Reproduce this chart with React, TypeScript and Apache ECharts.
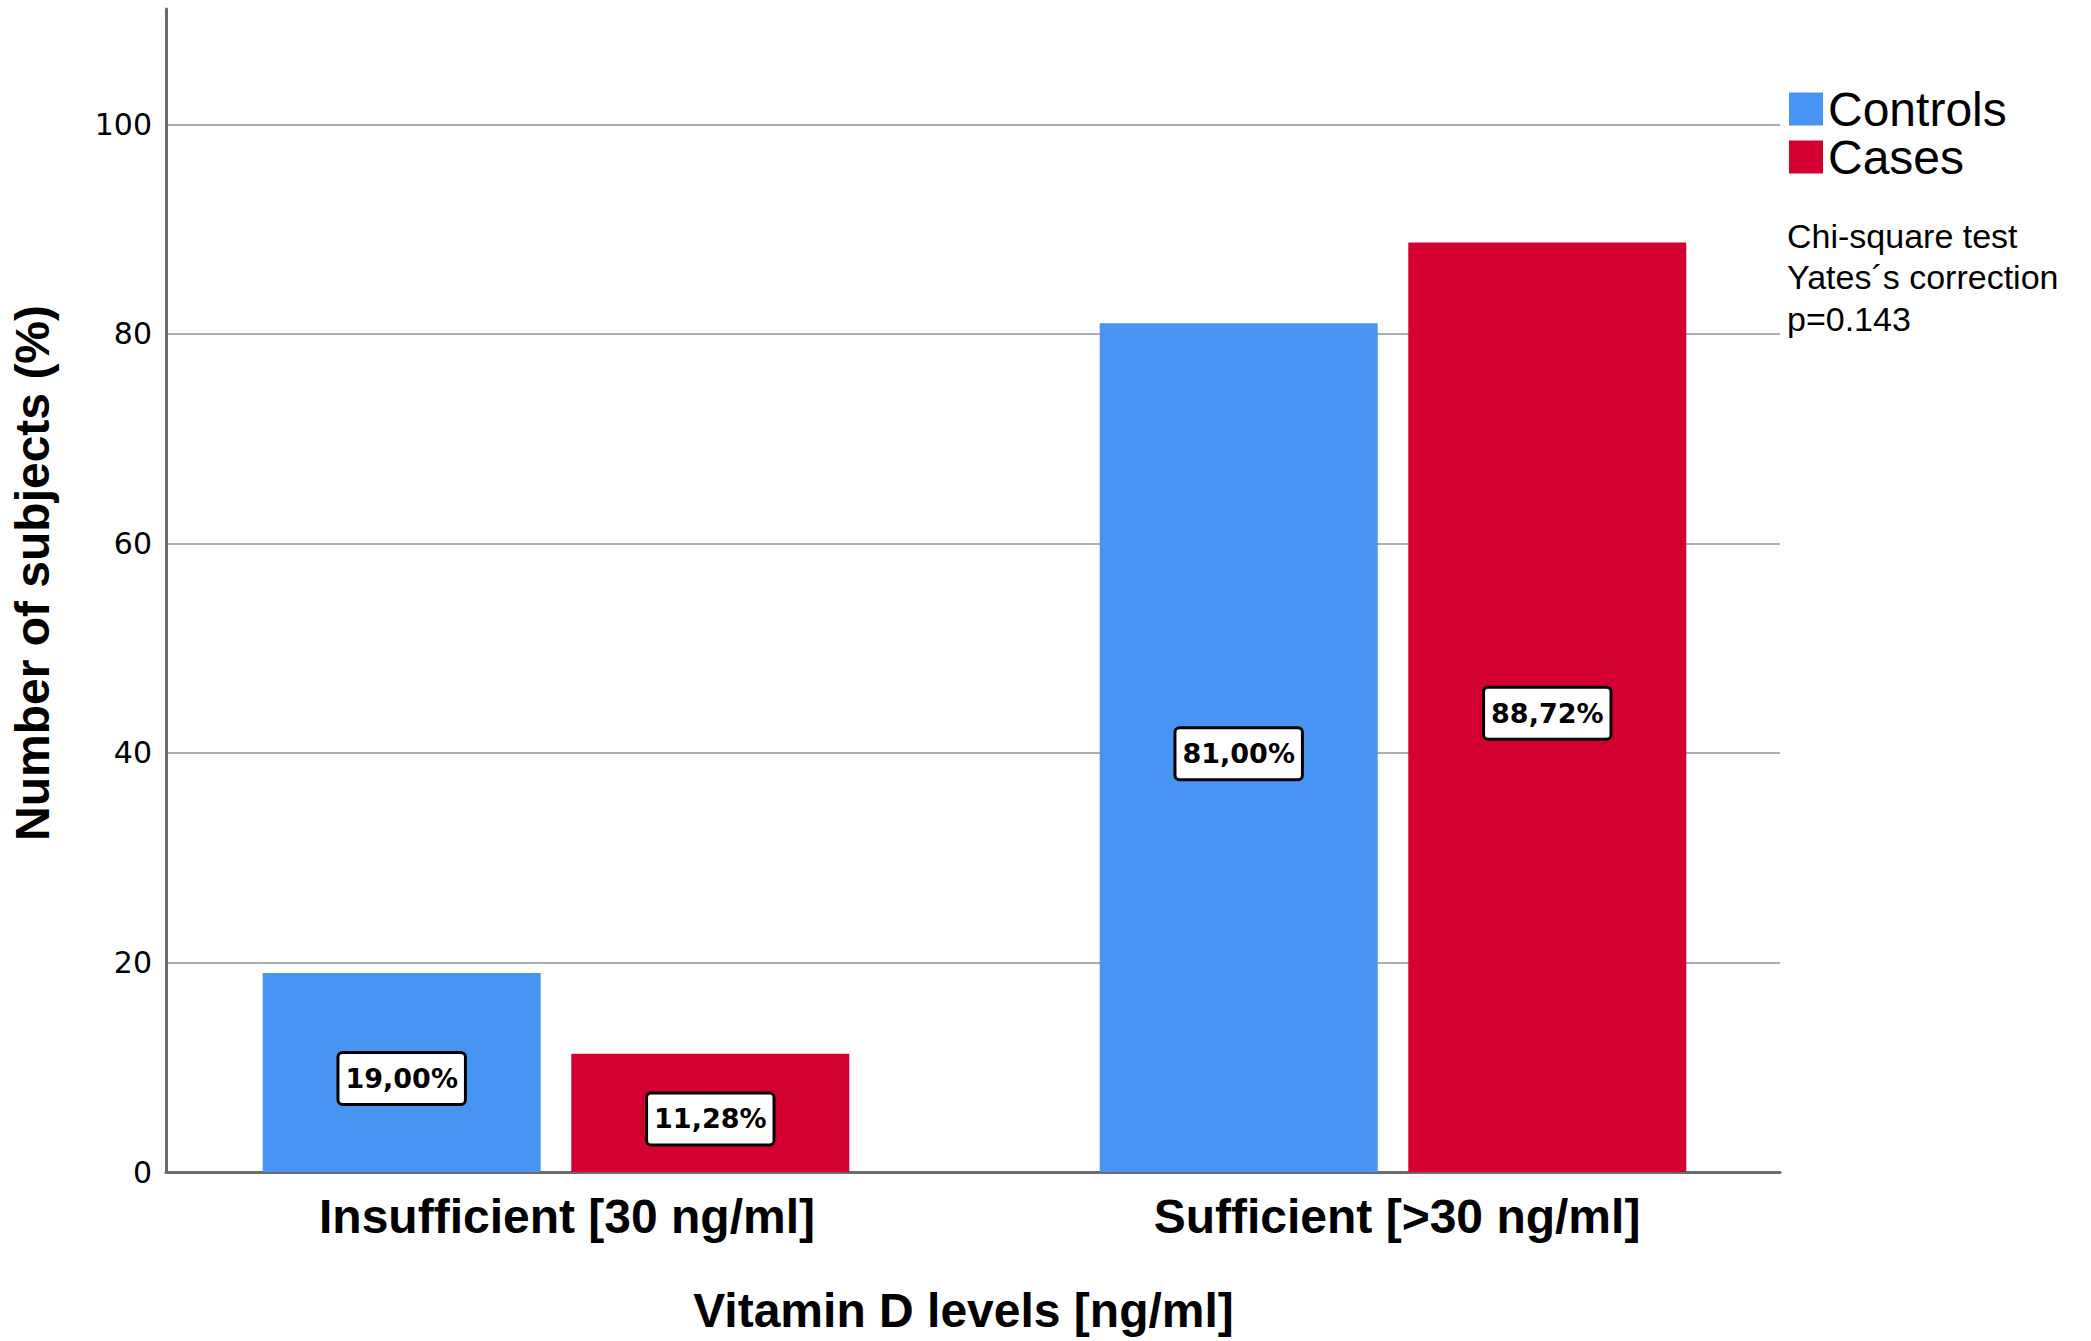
import React, { useEffect, useRef } from "react";
import * as echarts from "echarts";

const categories = ["Insufficient [30 ng/ml]", "Sufficient [>30 ng/ml]"];
const seriesNames = ["Controls", "Cases"];
const controls = [19.0, 81.0];
const cases = [11.28, 88.72];
const yTicks = { min: 0, max: 111, interval: 20, lastLabel: 100 };
const annotationLines = ["Chi-square test", "Yates\u00B4s correction", "p=0.143"];

const BLUE = "#4894F3";
const RED = "#D50032";

const fmtPct = (v: number) => v.toFixed(2).replace(".", ",") + "%";

export default function App() {
  const ref = useRef<HTMLDivElement>(null);
  useEffect(() => {
    if (!ref.current) return;
    const chart = echarts.init(ref.current, null, { renderer: "svg" });
    const barLabel = {
      show: true,
      position: "inside",
      offset: [0, 6],
      formatter: (p: any) => fmtPct(p.value),
      backgroundColor: "#ffffff",
      borderColor: "#000000",
      borderWidth: 3,
      borderRadius: 3,
      padding: [12, 6, 10, 6],
      fontFamily: "DejaVu Sans",
      fontWeight: "bold",
      fontSize: 27,
      color: "#000000",
    };
    const catPads = [22, 8];
    chart.setOption({
      animation: false,
      backgroundColor: "#ffffff",
      grid: [
        { left: 137.5, width: 1674, top: 9, bottom: 169 },
        { left: 166, right: 311, top: 9, bottom: 169 },
      ],
      legend: {
        orient: "vertical",
        left: 1784,
        top: 80,
        icon: "rect",
        itemWidth: 34,
        itemHeight: 33,
        itemGap: 0,
        data: seriesNames,
        textStyle: {
          fontFamily: "Liberation Sans",
          fontSize: 48,
          lineHeight: 43,
          color: "#000000",
        },
      },
      xAxis: [
        {
          gridIndex: 0,
          type: "category",
          data: categories.map((c, i) => ({
            value: c,
            textStyle: { padding: [0, 0, 0, catPads[i]] },
          })),
          axisLine: { show: false },
          axisTick: { show: false },
          splitLine: { show: false },
          axisLabel: {
            fontFamily: "Liberation Sans",
            fontWeight: "bold",
            fontSize: 48,
            color: "#000000",
            margin: 20,
          },
          name: "Vitamin D levels [ng/ml]",
          nameLocation: "middle",
          nameGap: 114,
          nameTextStyle: {
            fontFamily: "Liberation Sans",
            fontWeight: "bold",
            fontSize: 48,
            color: "#000000",
            padding: [0, 22, 0, 0],
          },
        },
        {
          gridIndex: 1,
          type: "value",
          min: 0,
          max: 1,
          axisLine: { show: true, lineStyle: { color: "#6b6b6b", width: 3 } },
          axisTick: { show: false },
          axisLabel: { show: false },
          splitLine: { show: false },
        },
      ],
      yAxis: [
        {
          gridIndex: 0,
          type: "value",
          min: yTicks.min,
          max: yTicks.max,
          show: false,
        },
        {
          gridIndex: 1,
          type: "value",
          min: yTicks.min,
          max: yTicks.max,
          interval: yTicks.interval,
          axisLine: { show: true, lineStyle: { color: "#6b6b6b", width: 3 } },
          axisTick: { show: false },
          axisLabel: {
            showMaxLabel: false,
            formatter: (v: number) => (v > yTicks.lastLabel ? "" : String(v)),
            fontFamily: "DejaVu Sans",
            fontSize: 30,
            color: "#000000",
            margin: 14,
          },
          splitLine: {
            show: true,
            showMinLine: false,
            showMaxLine: false,
            lineStyle: { color: "#adadad", width: 2 },
          },
        },
      ],
      graphic: [
        {
          type: "text",
          x: 32,
          y: 573,
          rotation: Math.PI / 2,
          style: {
            text: "Number of subjects (%)",
            fontFamily: "Liberation Sans",
            fontWeight: "bold",
            fontSize: 48,
            fill: "#000000",
            textAlign: "center",
            textVerticalAlign: "middle",
          },
        },
        {
          type: "text",
          x: 1787,
          y: 215,
          style: {
            text: annotationLines.join("\n"),
            fontFamily: "Liberation Sans",
            fontSize: 34,
            lineHeight: 41.5,
            fill: "#000000",
            textAlign: "left",
            textVerticalAlign: "top",
          },
        },
      ],
      series: [
        {
          name: seriesNames[0],
          type: "bar",
          xAxisIndex: 0,
          yAxisIndex: 0,
          data: controls,
          barWidth: 278,
          barGap: "11%",
          itemStyle: { color: BLUE },
          label: barLabel,
        },
        {
          name: seriesNames[1],
          type: "bar",
          xAxisIndex: 0,
          yAxisIndex: 0,
          data: cases,
          barWidth: 278,
          barGap: "11%",
          itemStyle: { color: RED },
          label: barLabel,
        },
      ],
    });
    return () => chart.dispose();
  }, []);
  return (
    <div
      ref={ref}
      style={{ position: "fixed", left: 0, top: 0, width: 2091, height: 1341 }}
    />
  );
}
